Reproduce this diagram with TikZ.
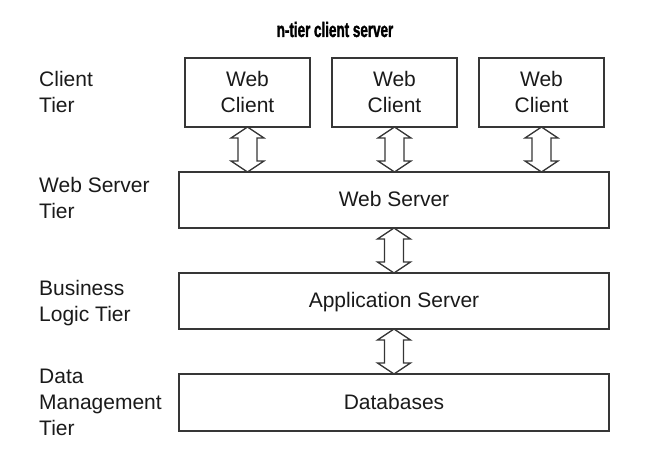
\documentclass[tikz,border=0pt]{standalone}
\usepackage{fontspec}
\setmainfont{Liberation Sans}
\newfontfamily\titlefont{Liberation Sans}[FakeStretch=0.64,FakeBold=1.5]
\usetikzlibrary{calc}
\definecolor{linegray}{HTML}{363636}
\definecolor{textgray}{HTML}{1A1A1A}
\newcommand\tierarrow[2]{%
  \draw[arrowshape] let \p1=(#1.south), \p2=(#2.north) in
    (\x1,\y1) -- (\x1+16.5bp,\y1-11bp) -- (\x1+9.5bp,\y1-11bp) --
    (\x1+9.5bp,\y2+11bp) -- (\x1+16.5bp,\y2+11bp) -- (\x1,\y2) --
    (\x1-16.5bp,\y2+11bp) -- (\x1-9.5bp,\y2+11bp) --
    (\x1-9.5bp,\y1-11bp) -- (\x1-16.5bp,\y1-11bp) -- cycle;}
\begin{document}
\begin{tikzpicture}[x=1bp,y=-1bp,
  tierbox/.style={draw=linegray, line width=1.3bp, fill=white, inner sep=0pt, outer sep=0pt},
  clientbox/.style={tierbox, minimum width=125bp, minimum height=69bp},
  widebox/.style={tierbox, minimum width=430bp, minimum height=56bp},
  boxtext/.style={inner sep=0pt, text=textgray, font=\fontsize{21bp}{26bp}\selectfont},
  arrowshape/.style={draw=linegray, line width=1.3bp, fill=white, line join=miter},
  titletext/.style={inner sep=0pt, text=black, font=\titlefont\bfseries\fontsize{21bp}{24bp}\selectfont}
]
\useasboundingbox (0,0) rectangle (650,456);
% title
\node[titletext, anchor=base] (title) at (335,37) {n-tier client server};
% boxes
\node[clientbox] (c1) at (247.5,92.5) {};
\node[clientbox] (c2) at (394.5,92.5) {};
\node[clientbox] (c3) at (541.5,92.5) {};
\node[widebox] (ws) at (394,200) {};
\node[widebox] (as) at (394,301) {};
\node[widebox, minimum height=57bp] (db) at (394,402.5) {};
% box texts
\node[boxtext, anchor=base] (c1t) at (247.5,87) {\begin{tabular}[t]{@{}c@{}}Web\\Client\end{tabular}};
\node[boxtext, anchor=base] (c2t) at (394.5,87) {\begin{tabular}[t]{@{}c@{}}Web\\Client\end{tabular}};
\node[boxtext, anchor=base] (c3t) at (541.5,87) {\begin{tabular}[t]{@{}c@{}}Web\\Client\end{tabular}};
\node[boxtext, anchor=base] (wst) at (394,207) {Web Server};
\node[boxtext, anchor=base] (ast) at (394,308) {Application Server};
\node[boxtext, anchor=base] (dbt) at (394,409) {Databases};
% tier labels
\node[boxtext, anchor=base west] (l1) at (39,87) {\begin{tabular}[t]{@{}l@{}}Client\\Tier\end{tabular}};
\node[boxtext, anchor=base west] (l2) at (39,193) {\begin{tabular}[t]{@{}l@{}}Web Server\\Tier\end{tabular}};
\node[boxtext, anchor=base west] (l3) at (39,296) {\begin{tabular}[t]{@{}l@{}}Business\\Logic Tier\end{tabular}};
\node[boxtext, anchor=base west] (l4) at (39,383) {\begin{tabular}[t]{@{}l@{}}Data\\Management\\Tier\end{tabular}};
% arrows
\tierarrow{c1}{ws}
\tierarrow{c2}{ws}
\tierarrow{c3}{ws}
\tierarrow{ws}{as}
\tierarrow{as}{db}
\end{tikzpicture}
\end{document}
